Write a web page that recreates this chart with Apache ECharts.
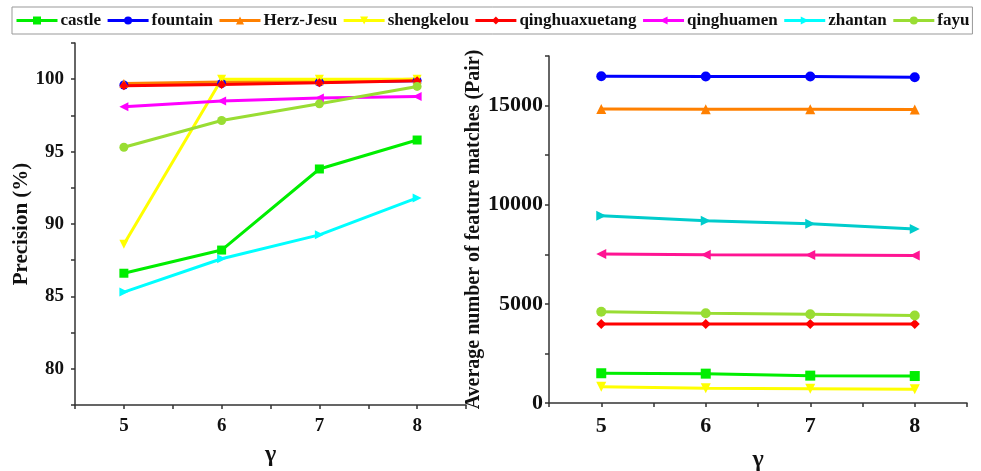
<!DOCTYPE html>
<html>
<head>
<meta charset="utf-8">
<script src="https://cdn.jsdelivr.net/npm/echarts@6/dist/echarts.min.js"></script>
<style>html,body{margin:0;padding:0;background:#fff}#c{width:981px;height:471px}</style>
</head>
<body>
<div id="c"></div>
<script>
const gammaValues = [5, 6, 7, 8];
const seriesNames = ['castle', 'fountain', 'Herz-Jesu', 'shengkelou', 'qinghuaxuetang', 'qinghuamen', 'zhantan', 'fayu'];

// Precision (%)
const precCastle = [86.6, 88.2, 93.8, 95.8];
const precFountain = [99.6, 99.7, 99.8, 99.9];
const precHerzJesu = [99.7, 99.8, 99.9, 100.0];
const precShengkelou = [88.6, 100.0, 100.0, 100.0];
const precQinghuaxuetang = [99.55, 99.63, 99.75, 99.9];
const precQinghuamen = [98.1, 98.5, 98.7, 98.8];
const precZhantan = [85.3, 87.6, 89.25, 91.8];
const precFayu = [95.3, 97.15, 98.3, 99.5];

// Average number of feature matches (Pair)
const matchCastle = [1500, 1480, 1380, 1360];
const matchFountain = [16480, 16470, 16470, 16430];
const matchHerzJesu = [14830, 14820, 14820, 14800];
const matchShengkelou = [820, 740, 720, 690];
const matchQinghuaxuetang = [3990, 3990, 3990, 3980];
const matchQinghuamen = [7520, 7475, 7470, 7440];
const matchZhantan = [9440, 9190, 9040, 8770];
const matchFayu = [4600, 4530, 4480, 4410];

const precTickLabels = [80, 85, 90, 95, 100];
const matchTickLabels = [0, 5000, 10000, 15000];
const gammaTickLabels = [5, 6, 7, 8];

const precData = [precCastle, precFountain, precHerzJesu, precShengkelou, precQinghuaxuetang, precQinghuamen, precZhantan, precFayu];
const matchData = [matchCastle, matchFountain, matchHerzJesu, matchShengkelou, matchQinghuaxuetang, matchQinghuamen, matchZhantan, matchFayu];

const leftColors = ['#00ee00', '#0000ff', '#ff8000', '#ffff00', '#ff0000', '#ff00ff', '#00ffff', '#99dd33'];
const rightColors = ['#00ee00', '#0000ff', '#ff8000', '#ffff00', '#ff0000', '#ff1493', '#00cccc', '#99dd33'];
const symbols = ['rect', 'circle', 'triangle', 'triangle', 'diamond', 'triangle', 'triangle', 'circle'];
const rotations = [0, 0, 0, 180, 0, 90, -90, 0];

const FONT = '"Liberation Serif", "Times New Roman", serif';

function pairs(ys) { return gammaValues.map((x, i) => [x, ys[i]]); }

const series = [];
seriesNames.forEach((name, i) => {
  series.push({
    name, type: 'line', xAxisIndex: 0, yAxisIndex: 0,
    data: pairs(precData[i]),
    symbol: symbols[i], symbolRotate: rotations[i], symbolSize: 9,
    lineStyle: { width: 3, color: leftColors[i] },
    itemStyle: { color: leftColors[i] },
    animation: false
  });
});
seriesNames.forEach((name, i) => {
  series.push({
    name, type: 'line', xAxisIndex: 1, yAxisIndex: 1,
    data: pairs(matchData[i]),
    symbol: symbols[i], symbolRotate: rotations[i], symbolSize: 10,
    lineStyle: { width: 3, color: rightColors[i] },
    itemStyle: { color: rightColors[i] },
    animation: false
  });
});

const axisLine = { show: true, lineStyle: { color: '#333', width: 1.5 } };
const axisTick = { show: true, inside: false, length: 4, lineStyle: { color: '#333', width: 1.5 } };

function xAxis(gridIndex, fontSize, margin, nameGap) {
  return {
    type: 'value', gridIndex, min: 4.5, max: 8.5, interval: 0.5,
    axisLine, axisTick, splitLine: { show: false },
    axisLabel: {
      fontFamily: FONT, fontWeight: 'bold', fontSize, color: '#111',
      margin,
      formatter: v => gammaTickLabels.includes(v) ? String(v) : ''
    },
    name: 'γ', nameLocation: 'middle', nameGap,
    nameTextStyle: { fontFamily: FONT, fontWeight: 'bold', fontSize: 24, color: '#111' }
  };
}

const option = {
  backgroundColor: '#fff',
  animation: false,
  legend: {
    data: seriesNames,
    left: 12, top: 7, width: 968,
    padding: [5, 3, 5, 3],
    itemWidth: 41, itemHeight: 10, itemGap: 5,
    borderColor: '#999', borderWidth: 1,
    lineStyle: { width: 3 },
    textStyle: { fontFamily: FONT, fontWeight: 'bold', fontSize: 17, color: '#111', padding: [0, 0, 0, -2] }
  },
  grid: [
    { left: 75, right: 515, top: 43, bottom: 66, outerBoundsMode: 'none', containLabel: false },
    { left: 549, right: 14, top: 56, bottom: 68, outerBoundsMode: 'none', containLabel: false }
  ],
  xAxis: [xAxis(0, 19, 12, 38), xAxis(1, 22, 12, 45)],
  yAxis: [
    {
      type: 'value', gridIndex: 0, min: 77.5, max: 102.5, interval: 2.5,
      axisLine, axisTick, splitLine: { show: false },
      axisLabel: {
        fontFamily: FONT, fontWeight: 'bold', fontSize: 19, color: '#111',
        margin: 11,
        formatter: v => precTickLabels.includes(v) ? String(v) : ''
      },
      name: 'Precision (%)', nameLocation: 'middle', nameGap: 41,
      nameTextStyle: { fontFamily: FONT, fontWeight: 'bold', fontSize: 21, color: '#111' }
    },
    {
      type: 'value', gridIndex: 1, min: 0, max: 17500, interval: 2500,
      axisLine, axisTick, splitLine: { show: false },
      axisLabel: {
        fontFamily: FONT, fontWeight: 'bold', fontSize: 22, color: '#111',
        margin: 6,
        formatter: v => matchTickLabels.includes(v) ? String(v) : ''
      },
      name: 'Average number of feature matches (Pair)', nameLocation: 'middle', nameGap: 45,
      nameTextStyle: { fontFamily: FONT, fontWeight: 'bold', fontSize: 20, color: '#111' }
    }
  ],
  series
};

const chart = echarts.init(document.getElementById('c'), null, { renderer: 'canvas' });
chart.setOption(option);
</script>
</body>
</html>
